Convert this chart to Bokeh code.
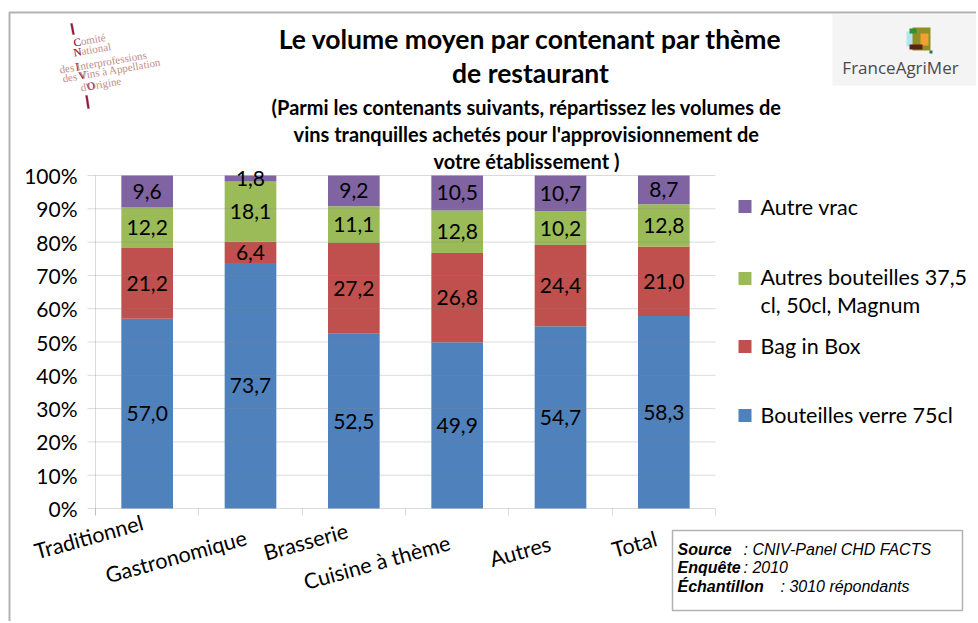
from bokeh.plotting import figure
from bokeh.models import (ColumnDataSource, LabelSet, Label, FactorRange, Range1d,
                          BoxAnnotation, PolyAnnotation)
from bokeh.core.properties import value
from bokeh.embed import file_html
from bokeh.resources import INLINE
import math

# ---------------- data ----------------
categories = ["Traditionnel", "Gastronomique", "Brasserie", "Cuisine à thème", "Autres", "Total"]
series_names = ["Bouteilles verre 75cl", "Bag in Box",
                "Autres bouteilles 37,5 cl, 50cl, Magnum", "Autre vrac"]
bouteilles_verre = [57.0, 73.7, 52.5, 49.9, 54.7, 58.3]
bag_in_box = [21.2, 6.4, 27.2, 26.8, 24.4, 21.0]
autres_bouteilles = [12.2, 18.1, 11.1, 12.8, 10.2, 12.8]
autre_vrac = [9.6, 1.8, 9.2, 10.5, 10.7, 8.7]
y_ticks = [0, 10, 20, 30, 40, 50, 60, 70, 80, 90, 100]
y_tick_labels = ["0%", "10%", "20%", "30%", "40%", "50%", "60%", "70%", "80%", "90%", "100%"]

title_lines = ["Le volume moyen par contenant par thème", "de restaurant"]
subtitle_lines = ["(Parmi les contenants suivants, répartissez les volumes de",
                  "vins tranquilles achetés pour l'approvisionnement de",
                  "votre établissement )"]

# ---------------- styles / layout ----------------
colors = ["#4F81BD", "#C0504D", "#9BBB59", "#8064A2"]
GRAY = "#868686"
FONT = "Lato"

W, H = 976, 621
P_LEFT, P_RIGHT, P_TOP, P_BOTTOM = 95, 715, 175, 508     # plot area in canvas px
n = len(categories)
u = (P_RIGHT - P_LEFT) / n                                # px per category
pad_side = P_LEFT / u                                      # range padding each side (units)
gpad = W / u - n - 1 - 2 * pad_side                        # gap before the spare group
ppp = (P_BOTTOM - P_TOP) / 100.0                           # px per percent


def Y(py):
    """canvas pixel row -> percent value on the y range"""
    return (P_BOTTOM - py) / ppp


factors = [("a", c) for c in categories]
x_range = FactorRange(*factors, ("b", " "), factor_padding=0, group_padding=gpad,
                      range_padding=pad_side, range_padding_units="absolute")
y_range = Range1d(Y(H), Y(0))

series = [bouteilles_verre, bag_in_box, autres_bouteilles, autre_vrac]
keys = ["s0", "s1", "s2", "s3"]
totals = [sum(v) for v in zip(*series)]
pct = [[v / t * 100 for v, t in zip(s, totals)] for s in series]

src = ColumnDataSource(dict(cat=factors, **{k: q for k, q in zip(keys, pct)}))

p = figure(x_range=x_range, y_range=y_range, width=W, height=H, title=None,
           output_backend="svg", toolbar_location=None,
           x_axis_location=None, y_axis_location=None, min_border=0)
p.outline_line_color = None
p.grid.visible = False
p.background_fill_color = "white"
p.border_fill_color = "white"

# ---- outer border
p.add_layout(PolyAnnotation(xs=[9, 9, 2000, 2000], ys=[Y(2000), Y(12), Y(12), Y(2000)],
                            xs_units="screen", ys_units="data",
                            fill_alpha=0, line_color="black", line_width=2))

# ---- gridlines, y axis
for t in y_ticks:
    p.add_layout(PolyAnnotation(xs=[P_LEFT - 8, P_RIGHT], ys=[t, t], xs_units="screen",
                                ys_units="data", fill_alpha=0, line_color=GRAY, line_width=1))
p.add_layout(PolyAnnotation(xs=[P_LEFT, P_LEFT], ys=[Y(P_BOTTOM + 7), 100], xs_units="screen",
                            ys_units="data", fill_alpha=0, line_color=GRAY, line_width=1))
p.add_layout(LabelSet(x="x", y="y", text="t", x_units="screen",
                      source=ColumnDataSource(dict(x=[P_LEFT - 18] * len(y_ticks), y=y_ticks,
                                                   t=y_tick_labels)),
                      text_align="right", text_baseline="middle", text_font=value(FONT),
                      text_font_size="21px", text_color="black"))
# category boundary ticks
for i in range(n + 1):
    xx = round(P_LEFT + u * i)
    p.add_layout(PolyAnnotation(xs=[xx, xx], ys=[0, Y(P_BOTTOM + 7)], xs_units="screen",
                                ys_units="data", fill_alpha=0, line_color=GRAY, line_width=1))

# ---- bars
p.vbar_stack(keys, x="cat", width=0.5, color=colors, line_color=None, source=src)

# value labels
lx, ly, lt = [], [], []
for si, s in enumerate(series):
    for ci, c in enumerate(factors):
        base = sum(pct[k][ci] for k in range(si))
        lx.append(c)
        ly.append(base + pct[si][ci] / 2)
        lt.append(f"{s[ci]:.1f}".replace(".", ","))
p.add_layout(LabelSet(x="x", y="y", text="t", source=ColumnDataSource(dict(x=lx, y=ly, t=lt)),
                      text_align="center", text_baseline="middle", text_font=value(FONT),
                      text_font_size="21px", text_color="black"))

# category labels (rotated, staggered like the original)
cat_anchor_y = [509, 524, 517, 529, 530, 525]
cat_dx = [-8, -8, -10, -11, -14, -11]
p.add_layout(LabelSet(x="x", y="y", text="t", x_offset="dx",
                      source=ColumnDataSource(dict(x=factors, y=[Y(v) for v in cat_anchor_y],
                                                   t=categories, dx=cat_dx)),
                      angle=0.27, text_align="right", text_baseline="top",
                      text_font=value(FONT), text_font_size="21.5px", text_color="black"))

# ---- titles
for i, t in enumerate(title_lines):
    p.add_layout(Label(x=530, y=Y(38 + 34 * i), x_units="screen", text=t, text_align="center",
                       text_baseline="middle", text_font=FONT, text_font_style="bold",
                       text_font_size="26.5px", text_color="black"))
for i, t in enumerate(subtitle_lines):
    p.add_layout(Label(x=526, y=Y(106 + 27 * i), x_units="screen", text=t, text_align="center",
                       text_baseline="middle", text_font=FONT, text_font_style="bold",
                       text_font_size="20px", text_color="black"))

# ---- legend (reverse order)
leg_rows = [(3, [206], 206), (2, [276, 304], 278), (1, [345], 346), (0, [414], 415)]
for si, ys, sq in leg_rows:
    p.add_layout(BoxAnnotation(left=738, right=751, top=Y(sq - 6.5), bottom=Y(sq + 6.5),
                               left_units="screen", right_units="screen",
                               fill_color=colors[si], fill_alpha=1, line_color=None))
    name = series_names[si]
    parts = [name] if len(ys) == 1 else [name[:22], name[23:]]
    for part, yy in zip(parts, ys):
        p.add_layout(Label(x=760, y=Y(yy), x_units="screen", text=part, text_align="left",
                           text_baseline="middle", text_font=FONT, text_font_size="21.5px",
                           text_color="black"))

# ---- source box
p.add_layout(BoxAnnotation(left=672, right=962, top=Y(530), bottom=Y(610),
                           left_units="screen", right_units="screen",
                           fill_color="white", fill_alpha=1, line_color="black", line_width=1.5))
src_rows = [("Source", ": CNIV-Panel  CHD FACTS", 549, 743),
            ("Enquête", ":   2010", 567, 743),
            ("Échantillon", ": 3010 répondants", 586, 780)]
for b, rest, yy, x2 in src_rows:
    p.add_layout(Label(x=677, y=Y(yy), x_units="screen", text=b, text_align="left",
                       text_baseline="alphabetic", text_font="Liberation Sans",
                       text_font_style="bold italic", text_font_size="16px", text_color="black"))
    p.add_layout(Label(x=x2, y=Y(yy), x_units="screen", text=rest, text_align="left",
                       text_baseline="alphabetic", text_font="Liberation Sans",
                       text_font_style="italic", text_font_size="16px", text_color="black"))

# ---- CNIV logo (left)
ang = 0.17
cniv = [("Comité", "C", "", 73, 42), ("National", "N", "", 73, 52),
        ("des Interprofessions", "I", "des ", 59, 69),
        ("des Vins à Appellation", "V", "des ", 62, 78), ("d'Origine", "O", "d'", 80, 87)]
for t, ini, pre, xx, yy in cniv:
    p.add_layout(Label(x=xx, y=Y(yy), x_units="screen", text=t, text_align="left",
                       text_baseline="alphabetic", angle=ang, text_font="Liberation Serif",
                       text_font_size="11px", text_color="#c08c8c"))
    off = {"": 0, "des ": 16.0, "d'": 6.5}[pre]
    p.add_layout(Label(x=xx + off * math.cos(ang), y=Y(yy - off * math.sin(ang)),
                       x_units="screen", text=ini, text_align="left",
                       text_baseline="alphabetic", angle=ang, text_font="Liberation Serif",
                       text_font_size="11px", text_color="#8e1b3c"))
for (x0, y0, x1, y1) in [(70, 23, 73, 34), (85, 95, 88, 108)]:
    p.add_layout(PolyAnnotation(xs=[x0, x0 + 2, x1 + 1, x1 - 1], ys=[Y(y0), Y(y0), Y(y1), Y(y1)],
                                xs_units="screen", ys_units="data",
                                fill_color="#8e1b3c", fill_alpha=1, line_color="#8e1b3c",
                                line_width=1))

# ---- FranceAgriMer logo (right)
logo_boxes = [(832, 14, 980, 85, "#f4f4f4"),
              (906, 31, 918, 46, "#b3e6ee"), (912, 27, 930, 50, "#8f8f24"),
              (920, 33, 928, 45, "#f0a030"), (909, 44, 922, 49, "#5a2212"),
              (909, 28, 916, 33, "#2f8f3a"), (929, 50, 932, 53, "#2f6f5a")]
for (x0, y0, x1, y1, c) in logo_boxes:
    p.add_layout(BoxAnnotation(left=x0, right=x1, top=Y(y0), bottom=Y(y1),
                               left_units="screen", right_units="screen",
                               fill_color=c, fill_alpha=1, line_color=None))
p.add_layout(Label(x=900, y=Y(67), x_units="screen", text="FranceAgriMer", text_align="center",
                   text_baseline="middle", text_font="Open Sans", text_font_size="17px",
                   text_color="#4a4a4a"))

open("out.html", "w").write(file_html(p, INLINE))
